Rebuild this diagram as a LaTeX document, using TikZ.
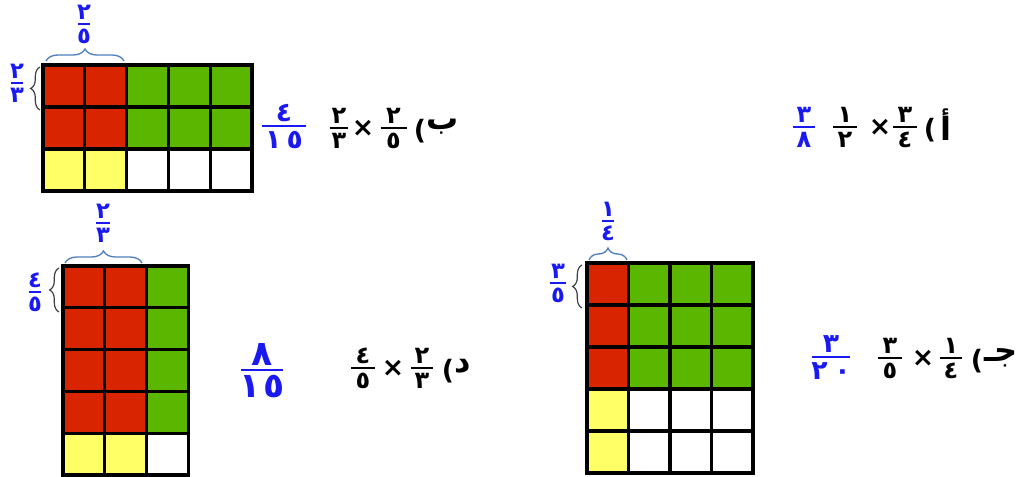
\documentclass[tikz,border=0pt]{standalone}
\usepackage{fontspec}
\TeXXeTstate=1
\newfontfamily\arabicfont[Script=Arabic]{DejaVu Sans}
\newfontfamily\latinfont{DejaVu Sans}
\usetikzlibrary{decorations.pathreplacing}
\definecolor{cred}{HTML}{D92400}
\definecolor{cgreen}{HTML}{5BB600}
\definecolor{cyellow}{HTML}{FFFF66}
\definecolor{tblue}{HTML}{1A1AF0}
\definecolor{bblue}{HTML}{4F81BD}
\definecolor{bgray}{HTML}{404040}
\tikzset{
  gridline/.style={line width=2.4pt,black,line cap=rect},
  topbrace/.style={decorate,decoration={brace,amplitude=9pt},bblue,line width=1pt},
  leftbrace/.style={decorate,decoration={brace,amplitude=7pt},bgray,line width=0.9pt},
  fracline/.style={line width=1.3pt},
  dig/.style={inner sep=0pt},
  lab/.style={inner sep=0pt,font=\arabicfont\bfseries\fontsize{24}{26}\selectfont},
  paren/.style={inner sep=0pt,font=\latinfont\bfseries\fontsize{20}{22}\selectfont},
  times/.style={inner sep=0pt,font=\latinfont\bfseries\fontsize{20}{22}\selectfont},
}
% #1 name, #2 x, #3 y of rule, #4 numerator, #5 denominator, #6 half width, #7 colour, #8 size
\newcommand\afr[8]{%
  \coordinate (#1l) at (#2-#6,#3);
  \coordinate (#1r) at (#2+#6,#3);
  \draw[fracline,#7] (#1l) -- (#1r);
  \node[dig,text=#7,anchor=south,font=\arabicfont\bfseries\fontsize{#8}{#8}\selectfont] (#1n) at (#2,#3-4) {\vphantom{٢}#4};
  \node[dig,text=#7,anchor=north,font=\arabicfont\bfseries\fontsize{#8}{#8}\selectfont] (#1d) at (#2,#3+5) {\vphantom{٢}#5};
}
% #1 x0, #2 y0, #3 cell w, #4 cell h, #5 cols, #6 rows
\newcommand\drawgrid[6]{%
  \foreach \i in {0,...,#5} \draw[gridline] (#1+\i*#3,#2) -- (#1+\i*#3,#2+#6*#4);
  \foreach \j in {0,...,#6} \draw[gridline] (#1,#2+\j*#4) -- (#1+#5*#3,#2+\j*#4);
}
\begin{document}
\begin{tikzpicture}[x=0.75pt,y=-0.75pt]
\useasboundingbox[fill=white] (0,0) rectangle (1025,477);

% ---------- (b) ----------
\fill[cred] (43,65) rectangle (126.6,149);
\fill[cgreen] (126.6,65) rectangle (252,149);
\fill[cyellow] (43,149) rectangle (126.6,191);
\drawgrid{43}{65}{41.8}{42}{5}{3}
\coordinate (bt1) at (46,61); \coordinate (bt2) at (124,61);
\draw[topbrace] (bt1) -- (bt2);
\coordinate (bl1) at (40,110); \coordinate (bl2) at (40,67);
\draw[leftbrace] (bl1) -- (bl2);
\afr{btop}{84}{24}{٢}{٥}{6}{tblue}{17}
\afr{bleft}{17}{83}{٢}{٣}{6}{tblue}{17}
\afr{bans}{284}{126}{٤}{١\hspace{0.2em}٥}{22}{tblue}{20}
\afr{bf1}{339}{128}{٢}{٣}{9}{black}{18}
\node[times] (bx) at (363,128) {×};
\afr{bf2}{393.5}{128}{٢}{٥}{13}{black}{18}
\node[paren] (bp) at (420,131) {(};
\node[lab] (bb) at (443,127) {ب};

% ---------- (a) ----------
\afr{aans}{804}{127}{٣}{٨}{11}{tblue}{18}
\afr{af1}{845}{127}{١}{٢}{12}{black}{18}
\node[times] (ax) at (880,127) {×};
\afr{af2}{905}{127}{٣}{٤}{12}{black}{18}
\node[paren] (ap) at (930,130) {(};
\node[lab] (aa) at (946,125) {أ};

% ---------- (d) ----------
\fill[cred] (63,266) rectangle (146.4,433.2);
\fill[cgreen] (146.4,266) rectangle (188.1,433.2);
\fill[cyellow] (63,433.2) rectangle (146.4,475);
\drawgrid{63}{266}{41.7}{41.8}{3}{5}
\coordinate (dt1) at (65,263); \coordinate (dt2) at (142,263);
\draw[topbrace] (dt1) -- (dt2);
\coordinate (dl1) at (59,312); \coordinate (dl2) at (59,268);
\draw[leftbrace] (dl1) -- (dl2);
\afr{dtop}{103}{223}{٢}{٣}{7}{tblue}{17}
\afr{dleft}{35}{292}{٤}{٥}{6}{tblue}{17}
\afr{dans}{262}{370}{٨}{١\hspace{0.1em}٥}{21}{tblue}{26}
\afr{df1}{363}{368}{٤}{٥}{12}{black}{18}
\node[times] (dx) at (393,368) {×};
\afr{df2}{422}{368}{٢}{٣}{11}{black}{18}
\node[paren] (dp) at (448,371) {(};
\node[lab] (dd) at (463,366) {د};

% ---------- (c) ----------
\fill[cred] (587,263) rectangle (628.5,389);
\fill[cgreen] (628.5,263) rectangle (753,389);
\fill[cyellow] (587,389) rectangle (628.5,473);
\drawgrid{587}{263}{41.5}{42}{4}{5}
\coordinate (ct1) at (589,260); \coordinate (ct2) at (627,260);
\draw[topbrace] (ct1) -- (ct2);
\coordinate (cl1) at (582,308); \coordinate (cl2) at (582,265);
\draw[leftbrace] (cl1) -- (cl2);
\afr{ctop}{608}{221}{١}{٤}{6}{tblue}{17}
\afr{cleft}{558}{283}{٣}{٥}{8}{tblue}{17}
\afr{cans}{831}{357}{٣}{٢\hspace{0.25em}٠}{19}{tblue}{20}
\afr{cf1}{890}{358}{٣}{٥}{12}{black}{18}
\node[times] (cx) at (923,358) {×};
\afr{cf2}{951}{358}{١}{٤}{11}{black}{18}
\node[paren] (cp) at (977,361) {(};
\node[lab] (cc) at (1001,358) {\beginR جـ\endR};
\end{tikzpicture}
\end{document}
